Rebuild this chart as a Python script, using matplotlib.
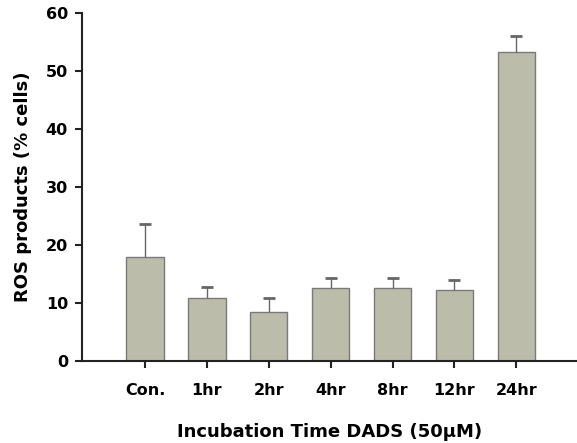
import matplotlib
matplotlib.use('Agg')
import matplotlib.pyplot as plt

groups = ['Con.', '1hr', '2hr', '4hr', '8hr', '12hr', '24hr']
ros = [18.0, 10.8, 8.4, 12.6, 12.6, 12.3, 53.4]
err = [5.7, 2.0, 2.4, 1.7, 1.8, 1.6, 2.6]

plt.rcParams['font.family'] = ['DejaVu Sans']
plt.rcParams['font.weight'] = 'bold'

fig = plt.figure(figsize=(5.77, 4.43), dpi=100)
ax = fig.add_axes([0.142, 0.185, 0.858, 0.785])

x = list(range(len(groups)))
ax.bar(x, ros, width=0.6, color='#bbbca9', edgecolor='#7a7a7a', linewidth=1.0)
# only the upper half of each error bar is shown
eb = ax.errorbar(x, ros, yerr=[[0] * len(err), err], fmt='none', ecolor='#666666',
                 elinewidth=1.0, capsize=4, capthick=2)
eb[1][0].set_visible(False)

ax.set_xlim(-1.02, 6.98)
ax.set_ylim(0, 60)
ax.set_yticks([0, 10, 20, 30, 40, 50, 60])
ax.set_xticks(x)
ax.set_xticklabels(groups)

for s in ['top', 'right']:
    ax.spines[s].set_visible(False)
for s in ['left', 'bottom']:
    ax.spines[s].set_linewidth(1.5)
    ax.spines[s].set_color('#222222')

ax.tick_params(axis='both', direction='out', length=5, width=1.5, colors='#222222',
               labelsize=11.5, labelcolor='black')
ax.tick_params(axis='x', pad=11)
ax.tick_params(axis='y', pad=5)

ax.set_ylabel('ROS products (% cells)', fontsize=13, fontweight='bold', labelpad=10)
ax.set_xlabel('Incubation Time DADS (50\u03bcM)', fontsize=13, fontweight='bold', labelpad=18)

fig.savefig('out.png', dpi=100)
